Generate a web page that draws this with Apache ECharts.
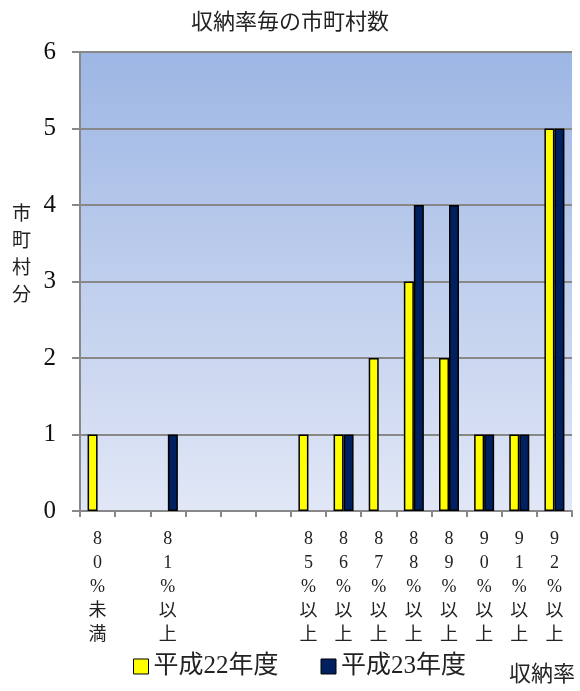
<!DOCTYPE html>
<html>
<head>
<meta charset="utf-8">
<script src="https://cdn.jsdelivr.net/npm/echarts@6/dist/echarts.min.js"></script>
<style>
html,body{margin:0;padding:0;background:#fff;}
#chart{width:580px;height:691px;}
</style>
</head>
<body>
<div id="chart"></div>
<script>
const title = '収納率毎の市町村数';
const categories = ['80%未満', '', '81%以上', '', '', '', '85%以上', '86%以上', '87%以上', '88%以上', '89%以上', '90%以上', '91%以上', '92%以上'];
const h22Values = [1, 0, 0, 0, 0, 0, 1, 1, 2, 3, 2, 1, 1, 5];
const h23Values = [0, 0, 1, 0, 0, 0, 0, 1, 0, 4, 4, 1, 1, 5];
const seriesNames = ['平成22年度', '平成23年度'];
const yAxisName = '市町村分';
const xAxisName = '収納率';
const yTicks = [0, 1, 2, 3, 4, 5, 6];

const FONT = '"Liberation Serif", "DejaVu Serif", "Noto Sans CJK JP", serif';
const toData = arr => arr.map(v => (v === 0 ? null : v));

const chart = echarts.init(document.getElementById('chart'), null, {renderer: 'canvas'});
chart.setOption({
  backgroundColor: '#ffffff',
  animation: false,
  textStyle: {fontFamily: FONT},
  title: {
    text: title,
    left: 'center',
    top: 7,
    textStyle: {fontFamily: FONT, fontSize: 22, fontWeight: 'normal', color: '#222'}
  },
  legend: {
    bottom: 7,
    left: 128,
    itemWidth: 15,
    itemHeight: 15,
    itemGap: 42,
    icon: 'rect',
    textStyle: {fontFamily: FONT, fontSize: 25, color: '#222'},
    data: seriesNames.map(n => ({name: n, itemStyle: {borderColor: '#000', borderWidth: 1}}))
  },
  grid: {
    left: 80,
    right: 8,
    top: 52,
    bottom: 180,
    show: true,
    borderWidth: 0,
    backgroundColor: new echarts.graphic.LinearGradient(0, 0, 0, 1, [
      {offset: 0, color: '#9db6e4'},
      {offset: 1, color: '#e1e7f6'}
    ])
  },
  xAxis: {
    type: 'category',
    data: categories,
    axisLine: {lineStyle: {color: '#888', width: 2}},
    axisTick: {show: true, length: 6, lineStyle: {color: '#888', width: 2}},
    axisLabel: {
      interval: 0,
      margin: 16,
      color: '#222',
      fontFamily: FONT,
      fontSize: 18,
      lineHeight: 24,
      formatter: v => v.split('').join('\n')
    }
  },
  yAxis: {
    type: 'value',
    min: yTicks[0],
    max: yTicks[yTicks.length - 1],
    interval: 1,
    axisLine: {show: true, lineStyle: {color: '#888', width: 2}},
    axisTick: {show: true, inside: false, length: 8, lineStyle: {color: '#888', width: 2}},
    splitLine: {show: true, lineStyle: {color: '#888', width: 2}},
    axisLabel: {color: '#111', fontFamily: FONT, fontSize: 25, margin: 24}
  },
  graphic: [
    {
      type: 'text',
      left: 12,
      top: 202,
      style: {
        text: yAxisName.split('').join('\n'),
        font: '19px ' + FONT,
        lineHeight: 27,
        fill: '#222'
      }
    },
    {
      type: 'text',
      left: 509,
      top: 664,
      style: {
        text: xAxisName,
        font: '22px ' + FONT,
        fill: '#222'
      }
    }
  ],
  series: [
    {
      name: seriesNames[0],
      type: 'bar',
      data: toData(h22Values),
      barWidth: 10,
      barGap: '0%',
      itemStyle: {color: '#ffff00', borderColor: '#000', borderWidth: 1.5}
    },
    {
      name: seriesNames[1],
      type: 'bar',
      data: toData(h23Values),
      barWidth: 10,
      barGap: '0%',
      itemStyle: {color: '#002060', borderColor: '#000', borderWidth: 1.5}
    }
  ]
});
</script>
</body>
</html>
